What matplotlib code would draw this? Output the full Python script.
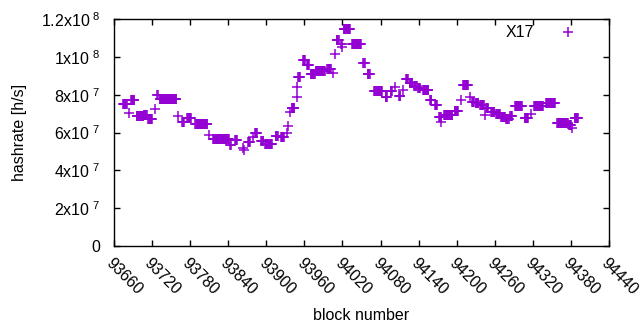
import numpy as np
import matplotlib
matplotlib.use("Agg")
import matplotlib.pyplot as plt
from matplotlib.ticker import FuncFormatter

# runs of consecutive blocks that share the same hashrate estimate
run_start = [93674, 93684, 93687, 93696, 93707, 93714, 93725, 93728, 93732, 93761,
             93767, 93775, 93788, 93810, 93816, 93843, 93851, 93863, 93865, 93871,
             93879, 93882, 93892, 93898, 93915, 93923, 93932, 93934, 93937, 93940,
             93948, 93949, 93950, 93958, 93964, 93970, 93978, 93986, 93996, 94005,
             94008, 94011, 94018, 94020, 94022, 94035, 94053, 94060, 94070, 94088,
             94096, 94103, 94109, 94115, 94120, 94126, 94133, 94139, 94147, 94158,
             94166, 94172, 94176, 94180, 94197, 94206, 94210, 94221, 94224, 94230,
             94237, 94245, 94246, 94254, 94262, 94270, 94278, 94284, 94292, 94307,
             94317, 94322, 94341, 94358, 94377, 94382, 94386]
run_end = [93680, 93684, 93692, 93706, 93712, 93720, 93725, 93729, 93758, 93761,
           93770, 93781, 93807, 93810, 93841, 93844, 93854, 93863, 93865, 93874,
           93879, 93885, 93895, 93909, 93918, 93928, 93932, 93934, 93937, 93944,
           93948, 93949, 93953, 93961, 93967, 93976, 93985, 93992, 94002, 94005,
           94008, 94014, 94019, 94020, 94032, 94049, 94055, 94063, 94082, 94090,
           94098, 94103, 94111, 94115, 94123, 94130, 94137, 94142, 94155, 94160,
           94169, 94175, 94176, 94193, 94202, 94206, 94218, 94221, 94227, 94234,
           94243, 94245, 94249, 94259, 94268, 94276, 94282, 94287, 94303, 94312,
           94317, 94336, 94355, 94375, 94380, 94382, 94391]
# hashrate in MH/s
run_rate = [75.0, 70.2, 77.2, 68.7, 69.3, 67.4, 72.4, 79.6, 77.6, 68.7,
            65.7, 67.5, 64.6, 58.7, 56.4, 53.4, 56.0, 52.0, 50.8, 54.8,
            57.8, 60.0, 55.7, 53.8, 58.0, 57.8, 59.6, 63.2, 71.0, 72.8,
            78.9, 84.2, 89.6, 98.1, 95.5, 90.9, 92.7, 92.3, 93.4, 91.3,
            101.3, 108.9, 106.8, 105.4, 114.6, 106.6, 96.6, 90.9, 81.9, 78.8,
            82.1, 84.2, 79.3, 82.5, 88.1, 86.3, 84.7, 83.7, 82.5, 77.2,
            74.4, 68.2, 65.7, 69.0, 71.4, 77.2, 85.1, 78.9, 76.3, 75.4,
            74.3, 69.3, 73.2, 71.0, 70.0, 68.4, 67.4, 68.7, 73.8, 67.5,
            70.0, 73.9, 75.8, 65.2, 64.0, 62.2, 67.5]

x_ticks = list(range(93660, 94441, 60))
y_ticks = [0, 2e7, 4e7, 6e7, 8e7, 1e8, 1.2e8]

blocks = np.concatenate([np.arange(s, e + 1) for s, e in zip(run_start, run_end)])
rates = np.concatenate([np.full(e - s + 1, r * 1e6)
                        for s, e, r in zip(run_start, run_end, run_rate)])

plt.rcParams["font.family"] = ["Liberation Sans", "DejaVu Sans"]
plt.rcParams["mathtext.default"] = "regular"
PURPLE = "#9400D3"
FS = 11.5

fig = plt.figure(figsize=(6.4, 3.3), dpi=100)
ax = fig.add_axes([114 / 640, 84 / 330, 495 / 640, 227 / 330])

ax.plot(blocks, rates, linestyle="none", marker="+", markersize=6.5,
        markeredgewidth=1.1, color=PURPLE, label="X17")

ax.set_xlim(93660, 94440)
ax.set_ylim(0, 1.2e8)
ax.set_xticks(x_ticks)
ax.set_yticks(y_ticks)


def yfmt(v, pos):
    if v == 0:
        return "0"
    exp = int(np.floor(np.log10(v) + 1e-9))
    mant = v / 10 ** exp
    m = f"{mant:.1f}".rstrip("0").rstrip(".")
    return m + "x10$^{\\ " + str(exp) + "}$"


ax.yaxis.set_major_formatter(FuncFormatter(yfmt))
ax.tick_params(direction="in", length=4, width=1, top=True, right=True,
               labelsize=FS, colors="black")
ax.tick_params(axis="y", pad=10)
ax.tick_params(axis="x", pad=7)
for lbl in ax.get_xticklabels():
    lbl.set_rotation(-45)
    lbl.set_ha("left")
    lbl.set_va("top")
    lbl.set_rotation_mode("anchor")
for s in ax.spines.values():
    s.set_linewidth(1)

ax.set_xlabel("block number", fontsize=FS, labelpad=7)
ax.set_ylabel("hashrate [h/s]", fontsize=FS, labelpad=10)

ax.legend(loc="upper right", frameon=False, markerfirst=False, fontsize=FS,
          handlelength=2.2, handletextpad=1.0, borderaxespad=0.0,
          bbox_to_anchor=(0.965, 1.0))

fig.savefig("out.png", dpi=100)
